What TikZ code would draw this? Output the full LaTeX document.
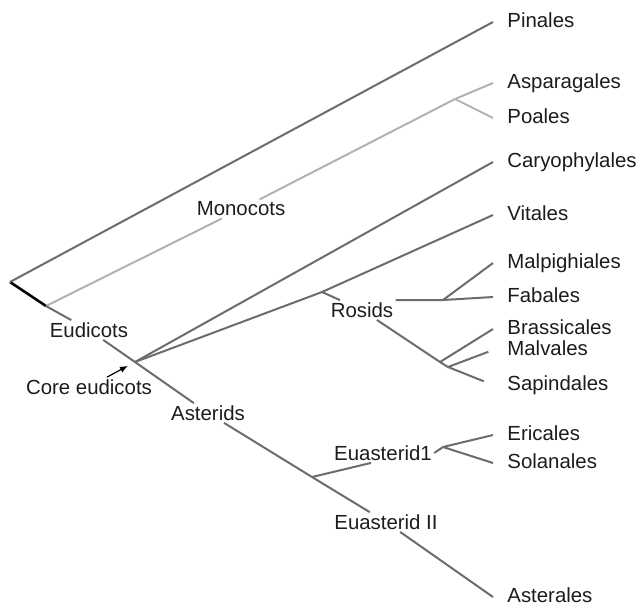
\documentclass[tikz,border=0pt]{standalone}
\usepackage{fontspec}
\setmainfont{Liberation Sans}
\usetikzlibrary{positioning,arrows,arrows.meta,calc}
\definecolor{edge}{RGB}{108,108,108}
\definecolor{mono}{RGB}{178,178,178}
\definecolor{txt}{RGB}{28,28,28}
\tikzset{
leaf/.style={
  anchor=mid west,
  inner xsep=7pt,
  inner ysep=0pt,
  text=txt
  },
clade/.style={
  inner sep=1pt,
  text=txt
  },
branch/.style={draw=edge, line width=1pt}
}

\begin{document}
\begin{tikzpicture}[
    x=0.5pt, y=-0.5pt,
    font=\fontsize{10.2}{12}\selectfont,
    >={Latex[length=4pt,width=3.2pt]}
    ]
\useasboundingbox (0,0) rectangle (640,607);
% branch points
\coordinate (root) at (10,282);
\coordinate (monojn) at (46,306);
\coordinate (core) at (135,362);
\coordinate (rosjn) at (322,292);
\coordinate (poajn) at (455,99);
\coordinate (fabjn) at (443,300);
\coordinate (brajn) at (440,362);
\coordinate (maljn) at (448,367);
\coordinate (e1jn) at (312,477);
\coordinate (e1top) at (443,447);
% orders
\foreach \name/\y/\txt in {pin/22/Pinales, asp/83/Asparagales, poa/118/Poales,
  car/162/Caryophylales, vit/215/Vitales, mal/263/Malpighiales, fab/297/Fabales,
  bra/329/Brassicales, mlv/350/Malvales, sap/385/Sapindales, eri/435/Ericales,
  sol/463/Solanales, ast/597/Asterales}
  \node[leaf] (\name) at (493,\y) {\txt};
% clades
\node[clade] (monocots) at (241,209) {Monocots};
\node[clade] (eudicots) at (89,330) {Eudicots};
\node[clade] (corelab) at (89,387) {Core eudicots};
\node[clade] (rosids) at (362,310) {Rosids};
\node[clade] (asterids) at (208,413) {Asterids};
\node[clade] (euast1) at (383,453) {Euasterid1};
\node[clade] (euast2) at (386,522) {Euasterid II};

\draw[line width=1.3pt] (root) -- (monojn);
\draw[branch] (root) -- (pin.mid west);
\draw[branch, draw=mono] (monojn) -- (monocots) -- (poajn) -- (asp.mid west);
\draw[branch, draw=mono] (poajn) -- (poa.mid west);
\draw[branch] (monojn) -- (eudicots) -- (core) -- (asterids) -- (e1jn) -- (euast2) -- (ast.mid west);
\draw[branch] (core) -- (car.mid west);
\draw[branch] (core) -- (rosjn) -- (vit.mid west);
\draw[branch, shorten >=5pt] (rosjn) -- (rosids) -- (brajn) -- (maljn) -- (sap.mid west);
\draw[branch] (brajn) -- (bra.mid west);
\draw[branch, shorten >=2.5pt] (maljn) -- (mlv.mid west);
\draw[branch] (rosids.north east) -- (fabjn) -- (fab.mid west);
\draw[branch] (fabjn) -- (mal.mid west);
\draw[branch] (e1jn) -- ([xshift=-6pt]euast1.south);
\draw[branch] (euast1.east) -- (e1top) -- (eri.mid west);
\draw[branch] (e1top) -- (sol.mid west);
\draw[->, line width=0.6pt, shorten >=4pt] ([xshift=9pt]corelab.north) -- (core);
\end{tikzpicture}
\end{document}
